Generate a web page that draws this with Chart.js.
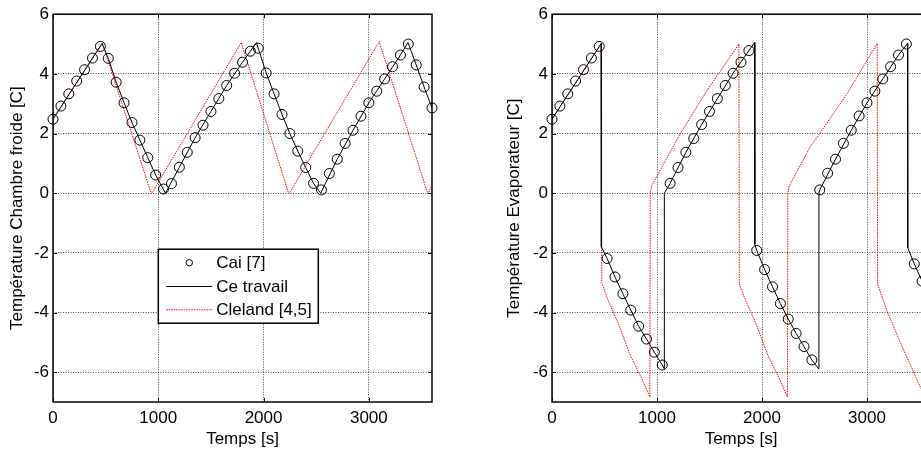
<!DOCTYPE html>
<html>
<head>
<meta charset="utf-8">
<script src="https://cdn.jsdelivr.net/npm/chart.js@4.4.1/dist/chart.umd.min.js"></script>
<style>
  html, body { margin: 0; padding: 0; background: #fff; }
  #wrap { position: relative; width: 921px; height: 452px; overflow: hidden; }
  #gauche { position: absolute; left: 0; top: 0; }
  #droite { position: absolute; left: 500px; top: 0; }
</style>
</head>
<body>
<div id="wrap">
  <canvas id="gauche" width="460" height="452"></canvas>
  <canvas id="droite" width="460" height="452"></canvas>
</div>
<script>
// graduations
const xTicks = [0, 1000, 2000, 3000];
const yTicks = [-6, -4, -2, 0, 2, 4, 6];

// instants des mesures Cai [7] (s), communs aux deux graphes
const tCai = [0, 75, 150, 225, 300, 375, 450, 525, 600, 675, 750, 825, 900, 975, 1050,
  1125, 1200, 1275, 1350, 1425, 1500, 1575, 1650, 1725, 1800, 1875,
  1950, 2025, 2100, 2175, 2250, 2325, 2400, 2475,
  2550, 2625, 2700, 2775, 2850, 2925, 3000, 3075, 3150, 3225, 3300, 3375,
  3450, 3525, 3600];

// --- graphe 1 : chambre froide ---
const caiChambre = [2.48, 2.92, 3.33, 3.76, 4.14, 4.53, 4.92, 4.52, 3.72, 3.03, 2.37, 1.78, 1.19, 0.61, 0.14,
  0.32, 0.87, 1.37, 1.86, 2.28, 2.74, 3.17, 3.61, 4.02, 4.39, 4.76,
  4.86, 4.03, 3.33, 2.64, 2.00, 1.41, 0.86, 0.33,
  0.11, 0.66, 1.14, 1.67, 2.11, 2.58, 3.03, 3.42, 3.83, 4.24, 4.63, 5.00,
  4.30, 3.56, 2.86];

const travailChT = [0, 466, 525, 600, 675, 750, 825, 900, 975, 1068, 1200, 1350, 1500, 1650, 1800, 1932,
  2025, 2100, 2175, 2250, 2325, 2400, 2475, 2542, 2700, 2850, 3000, 3150, 3300, 3372, 3450, 3525, 3600];
const travailChY = [2.48, 5.02, 4.52, 3.72, 3.03, 2.37, 1.78, 1.19, 0.61, 0.00, 0.87, 1.86, 2.74, 3.61, 4.39, 5.05,
  4.03, 3.33, 2.64, 2.00, 1.41, 0.86, 0.33, 0.00, 1.14, 2.11, 3.03, 3.83, 4.63, 5.05, 4.30, 3.56, 2.86];

const clelandChT = [0, 470, 934, 1788, 2240, 3098, 3561, 3600];
const clelandChY = [2.50, 5.02, -0.03, 5.05, -0.03, 5.08, -0.03, 0.28];

// --- graphe 2 : evaporateur ---
const caiEvap = [2.48, 2.92, 3.33, 3.76, 4.14, 4.53, 4.92, -2.19, -2.81, -3.37, -3.92, -4.46, -4.89, -5.33, -5.76,
  0.33, 0.86, 1.37, 1.83, 2.30, 2.74, 3.17, 3.61, 4.02, 4.39, 4.78,
  -1.92, -2.56, -3.14, -3.70, -4.22, -4.70, -5.14, -5.59,
  0.11, 0.67, 1.14, 1.67, 2.11, 2.59, 3.03, 3.42, 3.83, 4.24, 4.63, 5.00,
  -2.37, -2.95, -3.50];

const travailEvT = [0, 450, 468, 470, 525, 600, 675, 750, 825, 900, 975, 1050, 1068, 1070, 1125, 1275, 1425, 1575, 1725, 1875,
  1930, 1932, 1950, 2025, 2100, 2175, 2250, 2325, 2400, 2475, 2540, 2542, 2550, 2700, 2850, 3000, 3150, 3300, 3386, 3388,
  3450, 3525, 3600];
const travailEvY = [2.48, 4.92, 5.02, -1.80, -2.19, -2.81, -3.37, -3.92, -4.46, -4.89, -5.33, -5.76, -5.88, 0.00, 0.33, 1.37, 2.30, 3.17, 4.02, 4.78,
  5.05, -1.72, -1.92, -2.56, -3.14, -3.70, -4.22, -4.70, -5.14, -5.59, -5.89, 0.00, 0.11, 1.14, 2.11, 3.03, 3.83, 4.63, 5.02, -1.83,
  -2.37, -2.95, -3.50];

const clelandEvT = [0, 470, 474, 530, 634, 746, 841, 932, 936, 950, 1222, 1476, 1780, 1784, 1840, 1944, 2056, 2151, 2242, 2246,
  2260, 2460, 2549, 2809, 3097, 3101, 3190, 3317, 3508, 3561, 3565, 3600];
const clelandEvY = [2.50, 5.00, -3.00, -3.56, -4.39, -5.44, -6.11, -6.83, 0.00, 0.25, 2.00, 3.44, 5.00, -3.05, -3.56, -4.39, -5.44, -6.11, -6.83, 0.00,
  0.25, 1.56, 2.00, 3.33, 5.02, -3.05, -3.94, -5.00, -6.50, -6.83, 0.00, 0.30];

Chart.defaults.font.family = "'Liberation Sans', Arial, sans-serif";
Chart.defaults.font.size = 17;
Chart.defaults.color = '#000';

function pts(xs, ys) {
  return xs.map((x, i) => ({ x: x, y: ys[i] }));
}

// cadre noir + petites graduations vers l'interieur (comme matlab)
const cadrePlugin = {
  id: 'cadre',
  afterDraw(chart) {
    const { ctx, chartArea: a, scales } = chart;
    ctx.save();
    ctx.strokeStyle = '#000';
    ctx.lineWidth = 1;
    ctx.beginPath();
    scales.x.ticks.forEach(t => {
      const px = Math.round(scales.x.getPixelForValue(t.value)) + 0.5;
      ctx.moveTo(px, a.bottom); ctx.lineTo(px, a.bottom - 4);
      ctx.moveTo(px, a.top); ctx.lineTo(px, a.top + 4);
    });
    scales.y.ticks.forEach(t => {
      const py = Math.round(scales.y.getPixelForValue(t.value)) + 0.5;
      ctx.moveTo(a.left, py); ctx.lineTo(a.left + 4, py);
      ctx.moveTo(a.right, py); ctx.lineTo(a.right - 4, py);
    });
    ctx.stroke();
    ctx.lineWidth = 1.5;
    ctx.strokeRect(a.left, a.top, a.width, a.height);
    ctx.restore();
  }
};

// legende dessinee dans la zone du graphe
const legendePlugin = {
  id: 'legende',
  afterDraw(chart, args, opts) {
    if (!opts.show) return;
    const { ctx, chartArea: a } = chart;
    const left = a.left + opts.dx, top = a.top + opts.dy;
    const w = 160, h = 74, rowH = 23.3;
    ctx.save();
    ctx.fillStyle = '#fff';
    ctx.fillRect(left, top, w, h);
    ctx.strokeStyle = '#000';
    ctx.lineWidth = 1.5;
    ctx.strokeRect(left, top, w, h);
    ctx.font = "17px 'Liberation Sans', Arial, sans-serif";
    ctx.textBaseline = 'middle';
    chart.data.datasets.forEach((ds, i) => {
      const cy = top + 13.5 + i * rowH;
      ctx.lineWidth = 1;
      if (ds.showLine === false) {
        ctx.strokeStyle = ds.pointBorderColor;
        ctx.setLineDash([]);
        ctx.beginPath();
        ctx.arc(left + 31, cy, 3.2, 0, Math.PI * 2);
        ctx.stroke();
      } else {
        ctx.strokeStyle = ds.borderColor;
        ctx.setLineDash(ds.borderDash || []);
        ctx.beginPath();
        ctx.moveTo(left + 8, cy + 0.5);
        ctx.lineTo(left + 54, cy + 0.5);
        ctx.stroke();
      }
      ctx.setLineDash([]);
      ctx.fillStyle = '#000';
      ctx.fillText(ds.label, left + 58, cy + 1);
    });
    ctx.restore();
  }
};

function makeChart(id, cfg) {
  return new Chart(document.getElementById(id), {
    type: 'line',
    data: {
      datasets: [{
        label: 'Cai [7]',
        data: pts(tCai, cfg.cai),
        showLine: false,
        pointRadius: 5,
        pointHoverRadius: 5,
        pointBorderColor: '#000',
        pointBackgroundColor: 'rgba(0,0,0,0)',
        pointBorderWidth: 1,
        clip: false
      }, {
        label: 'Ce travail',
        data: pts(cfg.travT, cfg.travY),
        borderColor: '#000',
        borderWidth: 1,
        pointRadius: 0,
        tension: 0
      }, {
        label: 'Cleland [4,5]',
        data: pts(cfg.cleT, cfg.cleY),
        borderColor: '#ff0000',
        borderWidth: 1,
        borderDash: [1.5, 1],
        pointRadius: 0,
        tension: 0
      }]
    },
    options: {
      responsive: false,
      animation: false,
      events: [],
      layout: { padding: { top: 10, right: cfg.padRight, left: 0, bottom: 0 } },
      scales: {
        x: {
          type: 'linear', min: 0, max: 3600,
          afterBuildTicks: s => { s.ticks = xTicks.map(v => ({ value: v })); },
          afterFit: s => { s.height = 50; },
          grid: { color: 'rgba(0,0,0,0.7)', lineWidth: 1, drawTicks: false },
          border: { display: false, dash: [1, 1.5] },
          ticks: { padding: 6, maxRotation: 0, autoSkip: false, callback: v => String(v) },
          title: { display: true, text: 'Temps [s]', padding: { top: 0, bottom: 2 } }
        },
        y: {
          type: 'linear', min: -7, max: 6,
          afterBuildTicks: s => { s.ticks = yTicks.map(v => ({ value: v })); },
          afterFit: s => { s.width = cfg.yWidth; },
          grid: { color: 'rgba(0,0,0,0.7)', lineWidth: 1, drawTicks: false },
          border: { display: false, dash: [1, 1.5] },
          ticks: { padding: 4, autoSkip: false, callback: v => String(v) },
          title: { display: true, text: cfg.titreY, padding: { top: cfg.titrePad, bottom: 0 } }
        }
      },
      plugins: {
        legend: { display: false },
        tooltip: { enabled: false },
        legende: cfg.legende
      }
    },
    plugins: [cadrePlugin, legendePlugin]
  });
}

makeChart('gauche', {
  cai: caiChambre, travT: travailChT, travY: travailChY, cleT: clelandChT, cleY: clelandChY,
  titreY: 'Température Chambre froide [C]', titrePad: 7.5, yWidth: 53, padRight: 28,
  legende: { show: true, dx: 105.3, dy: 235 }
});

makeChart('droite', {
  cai: caiEvap, travT: travailEvT, travY: travailEvY, cleT: clelandEvT, cleY: clelandEvY,
  titreY: 'Température Evaporateur [C]', titrePad: 4.5, yWidth: 52, padRight: 30,
  legende: { show: false }
});
</script>
</body>
</html>
